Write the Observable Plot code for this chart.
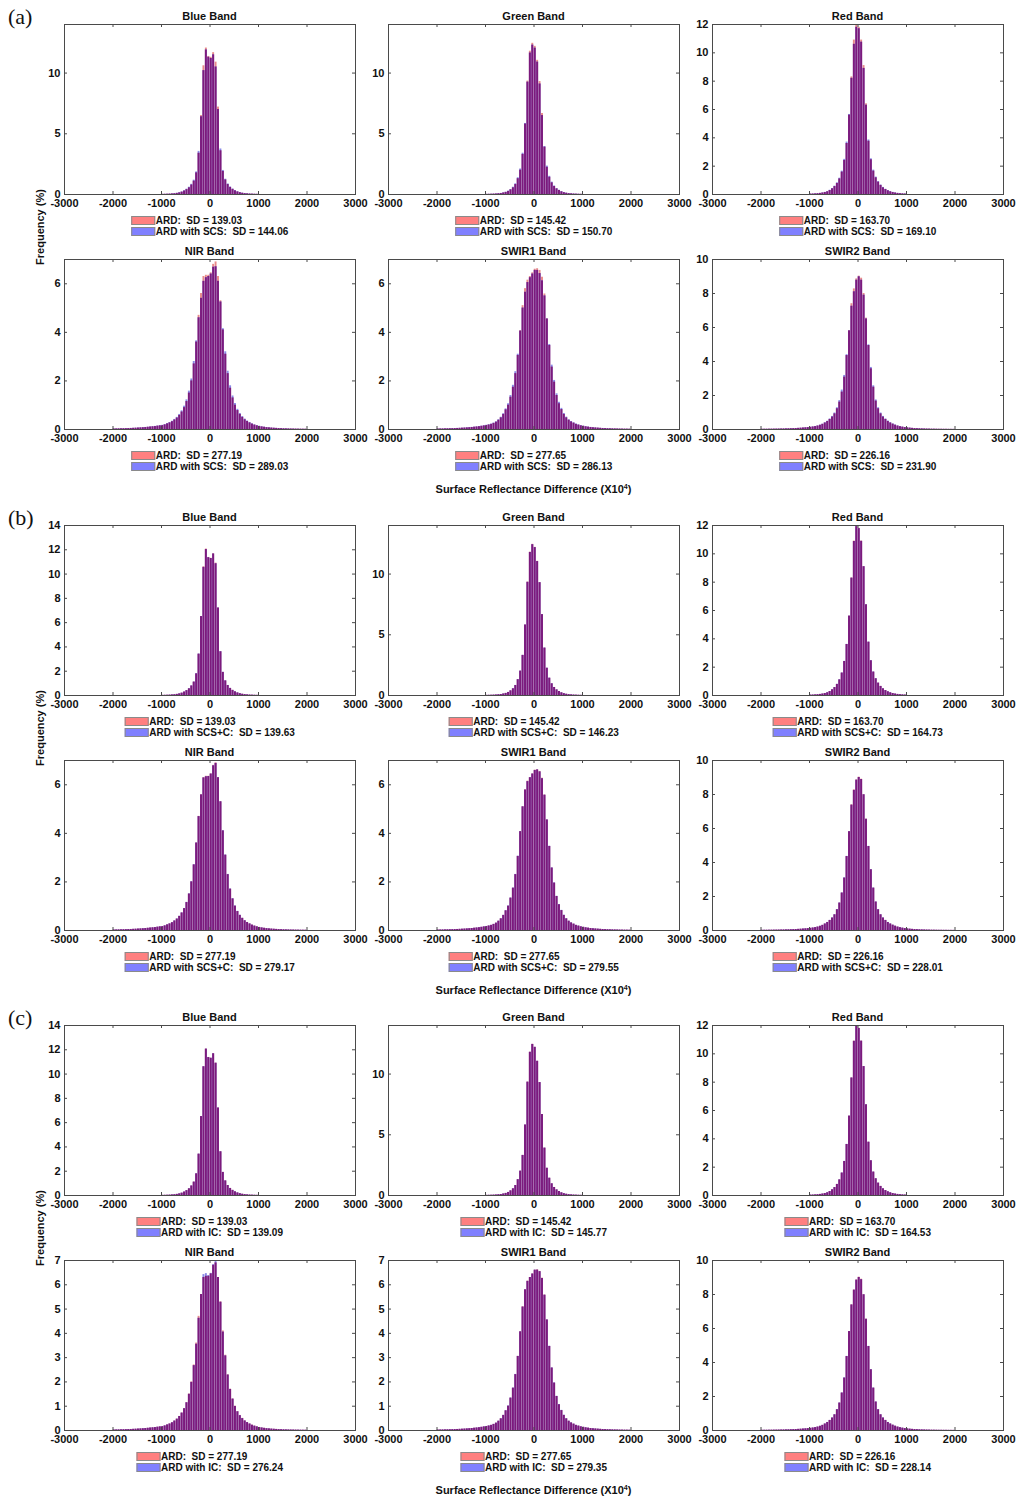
<!DOCTYPE html>
<html><head><meta charset="utf-8">
<script src="https://cdn.jsdelivr.net/npm/d3@7"></script>
<script src="https://cdn.jsdelivr.net/npm/@observablehq/plot@0.6"></script>
<style>
body{margin:0;background:#fff;}
#root{position:relative;width:1019px;height:1500px;font-family:"Liberation Sans",Arial,Helvetica,sans-serif;color:#111;overflow:hidden;}
.abs{position:absolute;}
.title{font-weight:bold;font-size:11px;line-height:11px;white-space:pre;transform:translateX(-50%);}
.legend{transform:translateX(-50%);font-weight:bold;font-size:10px;}
.lrow{display:flex;align-items:center;height:11px;white-space:pre;}
.sw{display:inline-block;width:22px;height:7px;border:1px solid #8a8a8a;margin-right:1px;}
.letter{font-family:"Liberation Serif","Times New Roman",serif;font-size:22px;line-height:22px;}
.ylab{font-weight:bold;font-size:11px;white-space:pre;transform:translate(-50%,-50%) rotate(-90deg);}
.xlab{font-weight:bold;font-size:11px;white-space:pre;transform:translate(-50%,-50%);}
.xlab sup{font-size:7px;}
</style></head><body><div id="root"></div>
<script>
// ---------- data ----------
const bandNames = ["Blue Band","Green Band","Red Band","NIR Band","SWIR1 Band","SWIR2 Band"];
const groupLetters = ["(a)","(b)","(c)"];
const methodNames = ["SCS","SCS+C","IC"];
const binWidth = 50;
const binStarts = [-1000,-1000,-1000,-2000,-2000,-2000];
const xTicks = [-3000,-2000,-1000,0,1000,2000,3000];
const yMax = [14,14,12,7,7,10];
const yTicksA = [[0,5,10],[0,5,10],[0,2,4,6,8,10,12],[0,2,4,6],[0,2,4,6],[0,2,4,6,8,10]];
const yTicksB = [[0,2,4,6,8,10,12,14],[0,5,10],[0,2,4,6,8,10,12],[0,2,4,6],[0,2,4,6],[0,2,4,6,8,10]];
const yTicksC = [[0,2,4,6,8,10,12,14],[0,5,10],[0,2,4,6,8,10,12],[0,1,2,3,4,5,6,7],[0,1,2,3,4,5,6,7],[0,2,4,6,8,10]];
const ardSD = ["139.03","145.42","163.70","277.19","277.65","226.16"];
const scsSD = ["144.06","150.70","169.10","289.03","286.13","231.90"];
const scscSD = ["139.63","146.23","164.73","279.17","279.55","228.01"];
const icSD = ["139.09","145.77","164.53","276.24","279.35","228.14"];

// Blue band (bins from -1000, width 50)
const blueArd = [0.01,0.015,0.02,0.03,0.045,0.06,0.09,0.13,0.19,0.28,0.4,0.55,0.78,1.1,1.78,3.4,6.5,10.6,12.06,11.37,11.3,11.68,10.9,7.2,3.6,1.9,1.2,0.82,0.58,0.42,0.3,0.21,0.15,0.1,0.07,0.05,0.035,0.025,0.018,0.012];
const blueScs = [0.012,0.018,0.025,0.035,0.05,0.07,0.1,0.15,0.21,0.31,0.44,0.6,0.84,1.18,1.86,3.55,6.4,10.2,11.9,11.3,11.2,11.5,10.5,7.0,3.75,1.98,1.26,0.87,0.62,0.45,0.32,0.23,0.16,0.11,0.08,0.055,0.04,0.03,0.02,0.014];
const blueScsC = [0.01,0.015,0.02,0.03,0.045,0.06,0.09,0.13,0.19,0.28,0.41,0.56,0.79,1.11,1.8,3.42,6.5,10.55,12.02,11.35,11.28,11.65,10.85,7.2,3.62,1.91,1.21,0.83,0.59,0.42,0.3,0.21,0.15,0.1,0.07,0.05,0.035,0.025,0.018,0.012];
const blueIc = [0.01,0.015,0.02,0.03,0.045,0.06,0.09,0.13,0.19,0.28,0.4,0.55,0.78,1.1,1.79,3.41,6.5,10.6,12.05,11.36,11.3,11.67,10.89,7.2,3.6,1.9,1.2,0.82,0.58,0.42,0.3,0.21,0.15,0.1,0.07,0.05,0.035,0.025,0.018,0.012];
// Green band
const greenArd = [0.01,0.015,0.02,0.03,0.04,0.06,0.08,0.12,0.17,0.25,0.38,0.55,0.82,1.3,2.0,3.3,5.8,9.34,11.8,12.45,12.2,11.05,9.3,6.67,3.9,2.24,1.42,0.96,0.66,0.46,0.33,0.22,0.15,0.1,0.07,0.05,0.035,0.025,0.018,0.012];
const greenScs = [0.012,0.018,0.025,0.035,0.045,0.065,0.09,0.13,0.19,0.28,0.41,0.6,0.88,1.38,2.1,3.4,5.85,9.25,11.65,12.3,12.05,10.9,9.1,6.5,3.95,2.34,1.5,1.02,0.7,0.49,0.35,0.24,0.16,0.11,0.08,0.055,0.04,0.028,0.02,0.014];
const greenScsC = [0.01,0.015,0.02,0.03,0.04,0.06,0.08,0.12,0.17,0.25,0.38,0.56,0.83,1.31,2.01,3.31,5.8,9.32,11.78,12.42,12.18,11.03,9.29,6.66,3.91,2.25,1.43,0.97,0.66,0.46,0.33,0.22,0.15,0.1,0.07,0.05,0.035,0.025,0.018,0.012];
const greenIc = [0.01,0.015,0.02,0.03,0.04,0.06,0.08,0.12,0.17,0.25,0.38,0.55,0.82,1.3,2.0,3.3,5.8,9.33,11.79,12.44,12.2,11.05,9.3,6.67,3.9,2.24,1.42,0.96,0.66,0.46,0.33,0.22,0.15,0.1,0.07,0.05,0.035,0.025,0.018,0.012];
// Red band
const redArd = [0.025,0.03,0.04,0.055,0.075,0.1,0.14,0.19,0.28,0.4,0.56,0.78,1.1,1.58,2.4,3.6,5.6,8.3,10.9,11.95,11.8,10.9,9.1,6.4,3.76,2.45,1.65,1.18,0.87,0.64,0.47,0.35,0.26,0.19,0.14,0.1,0.075,0.055,0.04,0.03];
const redScs = [0.028,0.033,0.045,0.06,0.08,0.11,0.15,0.2,0.3,0.42,0.59,0.82,1.15,1.65,2.48,3.7,5.65,8.2,10.6,11.8,11.7,10.75,8.9,6.3,3.85,2.52,1.72,1.23,0.91,0.67,0.5,0.37,0.28,0.2,0.15,0.11,0.08,0.06,0.045,0.033];
const redScsC = [0.025,0.03,0.04,0.055,0.075,0.1,0.14,0.19,0.28,0.4,0.56,0.79,1.11,1.59,2.41,3.61,5.6,8.28,10.87,11.92,11.78,10.88,9.09,6.4,3.77,2.46,1.66,1.19,0.87,0.64,0.47,0.35,0.26,0.19,0.14,0.1,0.075,0.055,0.04,0.03];
const redIc = [0.025,0.03,0.04,0.055,0.075,0.1,0.14,0.19,0.28,0.4,0.56,0.78,1.1,1.59,2.41,3.61,5.6,8.29,10.88,11.93,11.79,10.89,9.1,6.4,3.76,2.45,1.65,1.18,0.87,0.64,0.47,0.35,0.26,0.19,0.14,0.1,0.075,0.055,0.04,0.03];
// NIR band (bins from -2000)
const nirArd = [0.02,0.022,0.025,0.028,0.031,0.034,0.038,0.042,0.047,0.052,0.058,0.065,0.072,0.08,0.09,0.1,0.11,0.12,0.135,0.15,0.16,0.19,0.23,0.27,0.32,0.39,0.47,0.58,0.72,0.9,1.15,1.5,2.0,2.7,3.6,4.7,5.6,6.3,6.35,6.35,6.45,6.8,6.9,6.3,5.3,4.1,3.1,2.3,1.7,1.3,1.0,0.78,0.62,0.5,0.4,0.33,0.27,0.22,0.18,0.15,0.125,0.105,0.09,0.077,0.066,0.057,0.05,0.044,0.038,0.033,0.029,0.025,0.022,0.019,0.017,0.015,0.013,0.011,0.01,0.009];
const nirScs = [0.021,0.023,0.026,0.03,0.033,0.036,0.04,0.045,0.05,0.055,0.062,0.069,0.077,0.085,0.095,0.106,0.117,0.128,0.143,0.16,0.172,0.202,0.245,0.288,0.34,0.415,0.5,0.62,0.77,0.96,1.22,1.58,2.08,2.8,3.65,4.6,5.4,6.1,6.25,6.3,6.4,6.68,6.7,6.1,5.25,4.15,3.2,2.4,1.8,1.38,1.07,0.83,0.66,0.53,0.43,0.35,0.29,0.235,0.19,0.16,0.133,0.112,0.096,0.082,0.07,0.06,0.053,0.047,0.04,0.035,0.031,0.027,0.023,0.02,0.018,0.016,0.014,0.012,0.011,0.01];
const nirScsC = [0.02,0.022,0.025,0.028,0.031,0.034,0.038,0.042,0.047,0.052,0.058,0.065,0.072,0.08,0.09,0.1,0.11,0.12,0.136,0.152,0.162,0.192,0.232,0.273,0.323,0.394,0.474,0.585,0.726,0.906,1.16,1.51,2.01,2.71,3.6,4.69,5.58,6.28,6.33,6.34,6.44,6.78,6.88,6.29,5.3,4.11,3.11,2.31,1.71,1.31,1.01,0.79,0.63,0.5,0.4,0.33,0.27,0.22,0.18,0.15,0.125,0.105,0.09,0.077,0.066,0.057,0.05,0.044,0.038,0.033,0.029,0.025,0.022,0.019,0.017,0.015,0.013,0.011,0.01,0.009];
const nirIc = [0.02,0.022,0.025,0.028,0.031,0.034,0.038,0.042,0.047,0.052,0.058,0.065,0.072,0.08,0.09,0.1,0.11,0.12,0.134,0.148,0.158,0.188,0.227,0.266,0.316,0.386,0.465,0.575,0.715,0.895,1.14,1.49,1.98,2.67,3.55,4.62,5.6,6.42,6.46,6.38,6.47,6.83,6.98,6.3,5.28,4.05,3.07,2.28,1.69,1.29,0.99,0.77,0.61,0.49,0.39,0.325,0.265,0.215,0.177,0.148,0.123,0.103,0.088,0.075,0.065,0.056,0.049,0.043,0.037,0.032,0.028,0.024,0.021,0.019,0.017,0.015,0.013,0.011,0.01,0.009];
// SWIR1 band
const swir1Ard = [0.018,0.02,0.022,0.025,0.028,0.031,0.034,0.038,0.042,0.047,0.052,0.058,0.065,0.073,0.082,0.092,0.103,0.115,0.13,0.147,0.165,0.185,0.21,0.25,0.3,0.38,0.48,0.62,0.81,1.0,1.33,1.74,2.3,3.05,4.07,5.1,5.8,6.15,6.3,6.45,6.6,6.62,6.55,6.27,5.58,4.55,3.46,2.57,1.95,1.4,1.06,0.82,0.62,0.48,0.38,0.31,0.26,0.21,0.18,0.15,0.13,0.11,0.095,0.082,0.071,0.062,0.054,0.047,0.041,0.036,0.032,0.028,0.025,0.022,0.019,0.017,0.015,0.013,0.012,0.01];
const swir1Scs = [0.019,0.021,0.023,0.026,0.029,0.033,0.036,0.04,0.045,0.05,0.055,0.062,0.069,0.077,0.087,0.097,0.109,0.122,0.138,0.156,0.175,0.196,0.223,0.265,0.318,0.4,0.505,0.65,0.85,1.06,1.4,1.82,2.38,3.1,4.05,5.0,5.65,6.05,6.25,6.4,6.55,6.55,6.42,6.12,5.5,4.55,3.5,2.65,2.02,1.47,1.12,0.87,0.66,0.51,0.4,0.33,0.275,0.225,0.19,0.16,0.138,0.117,0.1,0.087,0.075,0.065,0.057,0.05,0.044,0.038,0.034,0.03,0.026,0.023,0.02,0.018,0.016,0.014,0.013,0.011];
const swir1ScsC = [0.018,0.02,0.022,0.025,0.028,0.031,0.034,0.038,0.042,0.047,0.052,0.058,0.065,0.073,0.082,0.092,0.104,0.116,0.131,0.148,0.166,0.186,0.212,0.252,0.302,0.383,0.484,0.625,0.815,1.01,1.34,1.75,2.31,3.06,4.07,5.09,5.78,6.13,6.29,6.44,6.59,6.61,6.53,6.25,5.57,4.55,3.47,2.58,1.96,1.41,1.07,0.83,0.63,0.485,0.385,0.313,0.262,0.212,0.181,0.151,0.131,0.111,0.096,0.083,0.072,0.063,0.055,0.048,0.042,0.036,0.032,0.028,0.025,0.022,0.019,0.017,0.015,0.013,0.012,0.01];
const swir1Ic = [0.018,0.02,0.022,0.025,0.028,0.031,0.034,0.038,0.042,0.047,0.052,0.058,0.065,0.073,0.082,0.092,0.104,0.116,0.131,0.148,0.166,0.187,0.212,0.252,0.302,0.382,0.483,0.624,0.814,1.01,1.34,1.75,2.31,3.05,4.06,5.08,5.79,6.14,6.3,6.44,6.6,6.6,6.54,6.26,5.57,4.55,3.47,2.58,1.96,1.41,1.07,0.83,0.63,0.485,0.384,0.313,0.262,0.212,0.181,0.151,0.131,0.111,0.096,0.083,0.072,0.063,0.055,0.048,0.042,0.036,0.032,0.028,0.025,0.022,0.019,0.017,0.015,0.013,0.012,0.01];
// SWIR2 band
const swir2Ard = [0.012,0.013,0.014,0.016,0.018,0.02,0.022,0.025,0.028,0.031,0.035,0.04,0.045,0.05,0.057,0.065,0.074,0.085,0.097,0.11,0.125,0.145,0.17,0.2,0.245,0.3,0.38,0.47,0.59,0.73,0.92,1.22,1.61,2.2,3.08,4.35,5.82,7.4,8.27,8.86,9.02,8.9,8.0,6.55,4.94,3.57,2.49,1.67,1.22,0.92,0.73,0.59,0.47,0.38,0.31,0.25,0.2,0.165,0.135,0.11,0.092,0.077,0.065,0.055,0.047,0.04,0.034,0.029,0.025,0.021,0.018,0.016,0.014,0.012,0.011,0.01,0.009,0.008,0.007,0.006];
const swir2Scs = [0.013,0.014,0.015,0.017,0.019,0.021,0.023,0.026,0.03,0.033,0.037,0.042,0.047,0.053,0.06,0.068,0.078,0.089,0.102,0.116,0.132,0.153,0.178,0.21,0.258,0.315,0.4,0.49,0.62,0.77,0.97,1.28,1.7,2.32,3.18,4.4,5.8,7.25,8.1,8.78,8.98,8.78,7.9,6.5,4.98,3.65,2.57,1.74,1.28,0.97,0.77,0.62,0.5,0.4,0.33,0.265,0.21,0.175,0.142,0.116,0.097,0.081,0.068,0.058,0.049,0.042,0.036,0.031,0.026,0.022,0.019,0.017,0.015,0.013,0.012,0.011,0.01,0.009,0.008,0.007];
const swir2ScsC = [0.012,0.013,0.014,0.016,0.018,0.02,0.022,0.025,0.028,0.031,0.035,0.04,0.045,0.051,0.058,0.066,0.075,0.086,0.098,0.111,0.126,0.147,0.172,0.202,0.248,0.303,0.384,0.475,0.596,0.737,0.93,1.23,1.62,2.21,3.1,4.36,5.81,7.37,8.24,8.84,9.0,8.88,7.98,6.54,4.95,3.58,2.5,1.68,1.23,0.93,0.74,0.595,0.475,0.385,0.313,0.252,0.202,0.167,0.137,0.111,0.093,0.078,0.066,0.056,0.048,0.041,0.035,0.03,0.025,0.021,0.018,0.016,0.014,0.012,0.011,0.01,0.009,0.008,0.007,0.006];
const swir2Ic = [0.012,0.013,0.014,0.016,0.018,0.02,0.022,0.025,0.028,0.031,0.035,0.04,0.045,0.051,0.058,0.066,0.075,0.086,0.098,0.111,0.126,0.147,0.172,0.202,0.247,0.302,0.383,0.474,0.595,0.736,0.93,1.23,1.62,2.21,3.1,4.36,5.82,7.38,8.25,8.84,9.0,8.87,7.98,6.54,4.95,3.58,2.5,1.68,1.23,0.93,0.74,0.595,0.475,0.385,0.313,0.252,0.202,0.167,0.137,0.111,0.093,0.078,0.066,0.056,0.048,0.041,0.035,0.03,0.025,0.021,0.018,0.016,0.014,0.012,0.011,0.01,0.009,0.008,0.007,0.006];

const ardSeries = [blueArd, greenArd, redArd, nirArd, swir1Ard, swir2Ard];
const corrSeries = [
  [blueScs, greenScs, redScs, nirScs, swir1Scs, swir2Scs],
  [blueScsC, greenScsC, redScsC, nirScsC, swir1ScsC, swir2ScsC],
  [blueIc, greenIc, redIc, nirIc, swir1Ic, swir2Ic]
];
const corrSD = [scsSD, scscSD, icSD];
const yTicksAll = [yTicksA, yTicksB, yTicksC];

// ---------- layout / style ----------
const RED = "#e88a8a", BLUE = "#8a8ae6", PURPLE = "#7c1a7c";
const SW_RED = "#ff8080", SW_BLUE = "#8080ff";
const colX = [64, 388, 712], rowY = [24, 259], groupY = [0, 501, 1001];
const FW = 291, FH = 170;
const ML = 34, MR = 22, MT = 4, MB = 20;
const AX = "#4a4a4a";
const root = document.getElementById("root");

function el(cls, left, top, html) {
  const d = document.createElement("div");
  d.className = "abs " + cls;
  d.style.left = left + "px";
  d.style.top = top + "px";
  d.innerHTML = html;
  root.appendChild(d);
  return d;
}
const toBins = (arr, start) => arr.map((v, i) => ({x1: start + i * binWidth, x2: start + (i + 1) * binWidth, v}));
// overlap of the two translucent histograms (where both bars cover the same area)
const overlapBins = (a, c, start) => a.map((v, i) => ({x1: start + i * binWidth, x2: start + (i + 1) * binWidth, v: Math.min(v, c[i])}));

function panel(g, b) {
  const col = b % 3, row = Math.floor(b / 3);
  const fx = colX[col], fy = groupY[g] + rowY[row];
  const yt = yTicksAll[g][b];
  const a = ardSeries[b], c = corrSeries[g][b], s = binStarts[b];
  const bar = {x1: "x1", x2: "x2", y1: 0, y2: "v", insetLeft: 0.25, insetRight: 0.25};
  const W = ML + FW + MR, H = MT + FH + MB;
  const svg = Plot.plot({
    width: W, height: H,
    marginLeft: ML, marginRight: MR, marginTop: MT, marginBottom: MB,
    x: {domain: [-3000, 3000], label: null},
    y: {domain: [0, yMax[b]], label: null},
    style: {background: "transparent", maxWidth: "none", fontFamily: '"Liberation Sans", Arial, Helvetica, sans-serif', fontSize: "11px", fontWeight: "bold", color: "#111", overflow: "visible"},
    marks: [
      Plot.rect(toBins(a, s), {...bar, fill: RED}),
      Plot.rect(toBins(c, s), {...bar, fill: BLUE}),
      Plot.rect(overlapBins(a, c, s), {...bar, fill: PURPLE}),
      Plot.frame({stroke: AX, strokeWidth: 1}),
      Plot.tickX(xTicks, {x: d => d, insetTop: FH - 3, stroke: AX}),
      Plot.tickX(xTicks, {x: d => d, insetBottom: FH - 3, stroke: AX}),
      Plot.tickY(yt, {y: d => d, insetRight: FW - 3, stroke: AX}),
      Plot.tickY(yt, {y: d => d, insetLeft: FW - 3, stroke: AX}),
      Plot.axisX(xTicks, {tickSize: 0, tickPadding: 5, tickFormat: d => String(d), label: null}),
      Plot.axisY(yt, {tickSize: 0, tickPadding: 4, tickFormat: d => String(d), label: null})
    ]
  });
  const wrap = el("", fx - ML, fy - MT, "");
  wrap.style.width = W + "px";
  wrap.style.height = H + "px";
  wrap.appendChild(svg);
  el("title", fx + FW / 2, fy - 13.5, bandNames[b]);
  el("legend", fx + FW / 2, fy + FH + 21,
    `<div class="lrow"><span class="sw" style="background:${SW_RED}"></span>ARD:  SD = ${ardSD[b]}</div>` +
    `<div class="lrow"><span class="sw" style="background:${SW_BLUE}"></span>ARD with ${methodNames[g]}:  SD = ${corrSD[g][b]}</div>`);
}

for (let g = 0; g < 3; g++) {
  el("letter", 8, groupY[g] + 6, groupLetters[g]);
  el("ylab", 40, groupY[g] + 227, "Frequency (%)");
  el("xlab", 533.5, groupY[g] + 489, "Surface Reflectance Difference (X10<sup>4</sup>)");
  for (let b = 0; b < 6; b++) panel(g, b);
}
</script></body></html>
